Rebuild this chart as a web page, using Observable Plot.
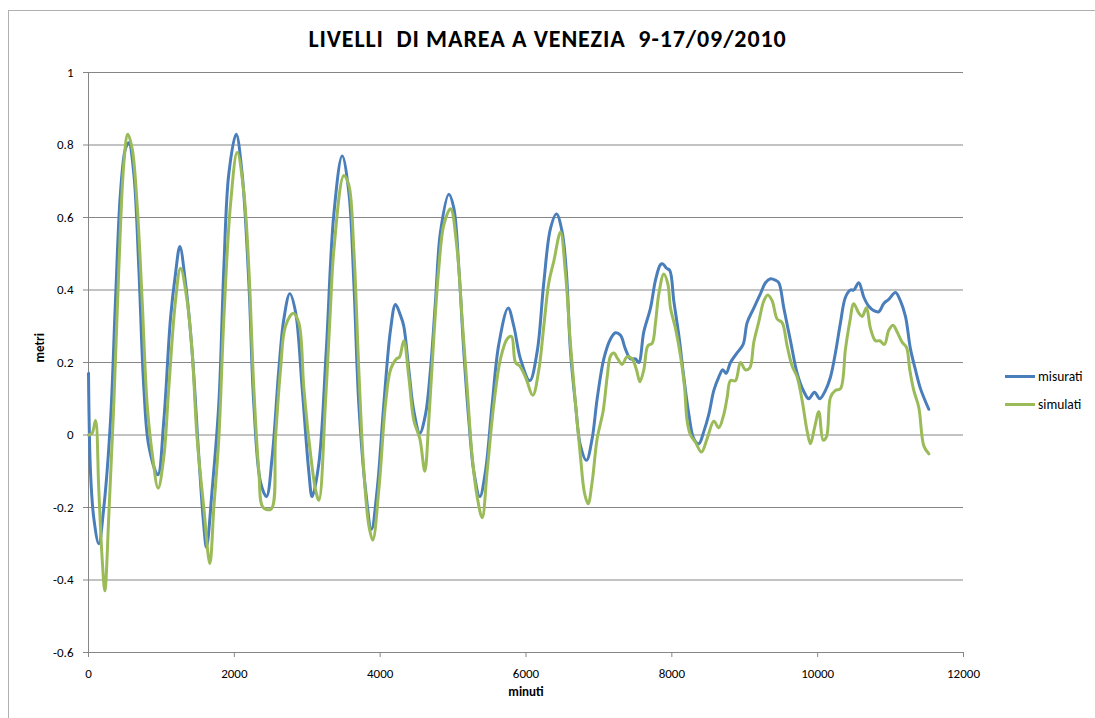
<!DOCTYPE html>
<html>
<head>
<meta charset="utf-8">
<script src="https://cdn.jsdelivr.net/npm/d3@7"></script>
<script src="https://cdn.jsdelivr.net/npm/@observablehq/plot@0.6"></script>
<style>
  html, body { margin: 0; padding: 0; background: #fff; }
  #wrap { position: relative; width: 1095px; height: 718px; overflow: hidden; font-family: Carlito, "Liberation Sans Narrow", "DejaVu Sans Condensed", "Open Sans", sans-serif; }
  #border { position: absolute; left: 8px; top: 10px; width: 1200px; height: 800px; border: 1.5px solid #b0b0b0; box-sizing: border-box; }
  #title { position: absolute; left: 0; width: 1095px; top: 24px; text-align: center; font-weight: bold; font-size: 24px; letter-spacing: 0.9px; color: #000; white-space: pre; }
  #chart { position: absolute; left: 0; top: 0; }
  .leg { position: absolute; left: 1005px; font-size: 13.5px; color: #000; display: flex; align-items: center; }
  .leg span.sw { display: inline-block; width: 30px; height: 3px; margin-right: 3px; }
</style>
</head>
<body>
<div id="wrap">
  <div id="border"></div>
  <div id="chart"></div>
  <div id="title"></div>
  <div class="leg" id="leg1" style="top:368px"></div>
  <div class="leg" id="leg2" style="top:396px"></div>
</div>
<script>
const titleText = "LIVELLI  DI MAREA A VENEZIA  9-17/09/2010";
const xLabel = "minuti";
const yLabel = "metri";
const seriesNames = ["misurati", "simulati"];
const seriesColors = ["#4A7EBB", "#9BBB59"];
const xTicks = [0, 2000, 4000, 6000, 8000, 10000, 12000];
const yTicks = [-0.6, -0.4, -0.2, 0, 0.2, 0.4, 0.6, 0.8, 1];

const misuratiX = [0,27,73,141,210,302,370,439,507,553,622,690,759,827,951,1033,1124,1193,1253,1330,1421,1513,1581,1618,1696,1787,1856,1924,2025,2107,2199,2267,2359,2441,2519,2610,2679,2761,2839,2930,3021,3067,3158,3260,3365,3479,3570,3639,3707,3799,3881,3959,4050,4142,4210,4279,4324,4393,4462,4544,4622,4690,4759,4827,4942,5010,5079,5147,5216,5284,5367,5444,5536,5627,5755,5833,5924,6052,6153,6244,6336,6418,6496,6555,6610,6679,6747,6830,6907,6976,7067,7159,7227,7296,7364,7433,7502,7547,7616,7707,7776,7844,7876,7927,7972,8027,8096,8164,8233,8301,8370,8439,8507,8576,8644,8699,8745,8804,8896,8978,9033,9124,9216,9284,9353,9421,9467,9536,9627,9719,9810,9878,9956,10029,10107,10176,10244,10313,10381,10450,10495,10564,10633,10701,10770,10838,10907,10975,11067,11135,11204,11273,11341,11410,11524];
const misuratiY = [0.17,-0.10,-0.23,-0.30,-0.20,0.04,0.37,0.67,0.79,0.806,0.72,0.46,0.13,-0.03,-0.11,0.04,0.32,0.445,0.52,0.42,0.23,-0.06,-0.25,-0.31,-0.15,0.085,0.46,0.72,0.83,0.72,0.42,0.085,-0.13,-0.17,-0.06,0.18,0.32,0.39,0.34,0.13,-0.10,-0.17,-0.08,0.23,0.61,0.77,0.67,0.42,0.085,-0.15,-0.26,-0.15,0.085,0.29,0.36,0.33,0.30,0.18,0.066,0.005,0.057,0.18,0.37,0.56,0.664,0.626,0.46,0.23,0.04,-0.10,-0.17,-0.10,0.085,0.25,0.35,0.30,0.21,0.15,0.23,0.42,0.57,0.61,0.56,0.445,0.23,0.085,-0.03,-0.07,-0.01,0.10,0.21,0.265,0.282,0.275,0.237,0.21,0.21,0.20,0.285,0.35,0.427,0.47,0.472,0.46,0.454,0.37,0.275,0.16,0.057,-0.01,-0.024,0.01,0.057,0.123,0.16,0.18,0.17,0.20,0.227,0.25,0.31,0.35,0.39,0.42,0.431,0.427,0.42,0.35,0.26,0.17,0.12,0.10,0.118,0.10,0.123,0.16,0.227,0.31,0.38,0.40,0.40,0.42,0.38,0.355,0.343,0.34,0.363,0.374,0.393,0.37,0.327,0.237,0.18,0.128,0.071];

const simulatiX = [0,50,96,141,187,224,279,347,416,485,539,599,667,736,804,873,955,1033,1101,1193,1262,1353,1421,1490,1581,1664,1719,1787,1856,1947,2039,2130,2199,2267,2336,2395,2505,2564,2633,2701,2807,2884,2953,3021,3113,3160,3250,3318,3365,3502,3570,3639,3707,3776,3845,3899,3982,4073,4142,4224,4265,4324,4393,4462,4544,4612,4667,4736,4804,4873,4965,5056,5124,5193,5262,5330,5399,5467,5559,5650,5741,5801,5856,5915,5993,6093,6176,6244,6313,6382,6473,6542,6610,6679,6747,6802,6852,6907,6976,7058,7113,7159,7204,7259,7319,7387,7456,7515,7561,7616,7671,7730,7776,7822,7890,7945,7982,8050,8119,8174,8210,8256,8324,8407,8484,8576,8644,8713,8759,8804,8873,8941,9010,9069,9124,9193,9262,9316,9376,9444,9513,9581,9650,9719,9787,9856,9901,9956,10016,10075,10121,10176,10244,10313,10381,10441,10495,10564,10610,10669,10724,10793,10852,10916,10975,11035,11090,11158,11218,11263,11318,11387,11456,11524];
const simulatiY = [0,0.005,0.04,-0.15,-0.34,-0.43,-0.22,0.085,0.46,0.75,0.83,0.79,0.635,0.37,0.085,-0.05,-0.147,-0.06,0.13,0.37,0.46,0.37,0.23,-0.01,-0.20,-0.355,-0.20,-0.01,0.32,0.635,0.78,0.67,0.46,0.13,-0.10,-0.20,-0.204,-0.01,0.18,0.30,0.336,0.31,0.13,-0.01,-0.15,-0.18,0.09,0.35,0.51,0.716,0.69,0.51,0.18,-0.10,-0.25,-0.29,-0.15,0.085,0.18,0.21,0.215,0.26,0.16,0.04,-0.01,-0.10,0.04,0.27,0.46,0.58,0.624,0.51,0.32,0.13,-0.06,-0.17,-0.228,-0.10,0.085,0.21,0.265,0.272,0.20,0.19,0.16,0.11,0.18,0.30,0.42,0.48,0.56,0.445,0.25,0.085,-0.06,-0.16,-0.19,-0.13,-0.01,0.066,0.16,0.218,0.226,0.21,0.195,0.216,0.21,0.18,0.147,0.18,0.246,0.253,0.31,0.39,0.444,0.417,0.35,0.294,0.218,0.133,0.038,0,-0.02,-0.047,-0.01,0.038,0.02,0.057,0.104,0.15,0.15,0.20,0.18,0.185,0.256,0.313,0.37,0.386,0.37,0.32,0.31,0.246,0.19,0.16,0.095,0.01,-0.024,0.019,0.064,-0.014,-0.005,0.104,0.123,0.128,0.237,0.313,0.362,0.336,0.327,0.351,0.294,0.26,0.26,0.25,0.289,0.303,0.284,0.256,0.242,0.18,0.123,0.076,-0.03,-0.052];

const data = [
  ...misuratiX.map((x, i) => ({x, y: misuratiY[i], s: seriesNames[0]})),
  ...simulatiX.map((x, i) => ({x, y: simulatiY[i], s: seriesNames[1]}))
];

const fontFam = 'Carlito, "Liberation Sans Narrow", "DejaVu Sans Condensed", "Open Sans", sans-serif';

const chart = Plot.plot({
  width: 1095,
  height: 718,
  marginLeft: 88,
  marginRight: 132,
  marginTop: 72,
  marginBottom: 66,
  style: {fontFamily: fontFam, fontSize: "13px", background: "transparent", color: "#000"},
  x: {domain: [0, 12000]},
  y: {domain: [-0.6, 1]},
  color: {domain: seriesNames, range: seriesColors},
  marks: [
    Plot.gridY(yTicks, {stroke: "#868686", strokeOpacity: 1, strokeWidth: 1}),
    Plot.axisY(yTicks, {tickSize: 5, tickPadding: 10, stroke: "#868686", tickFormat: d => String(+d.toFixed(1)), fontSize: 13, label: null}),
    Plot.axisX(xTicks, {tickSize: 5, tickPadding: 11, stroke: "#868686", tickFormat: d => String(d), fontSize: 13, label: null}),
    Plot.ruleX([0], {stroke: "#868686"}),
    Plot.ruleY([-0.6], {stroke: "#868686"}),
    Plot.line(data, {x: "x", y: "y", z: "s", stroke: "s", strokeWidth: 3, curve: "catmull-rom"}),
    Plot.text([yLabel], {frameAnchor: "left", dx: -49, rotate: -90, fontWeight: "bold", fontSize: 13, text: d => d}),
    Plot.text([xLabel], {frameAnchor: "bottom", dy: 43, fontWeight: "bold", fontSize: 13, text: d => d})
  ]
});
document.getElementById("chart").appendChild(chart);
document.getElementById("title").textContent = titleText;
document.getElementById("leg1").innerHTML = `<span class="sw" style="background:${seriesColors[0]}"></span>${seriesNames[0]}`;
document.getElementById("leg2").innerHTML = `<span class="sw" style="background:${seriesColors[1]}"></span>${seriesNames[1]}`;
</script>
</body>
</html>
